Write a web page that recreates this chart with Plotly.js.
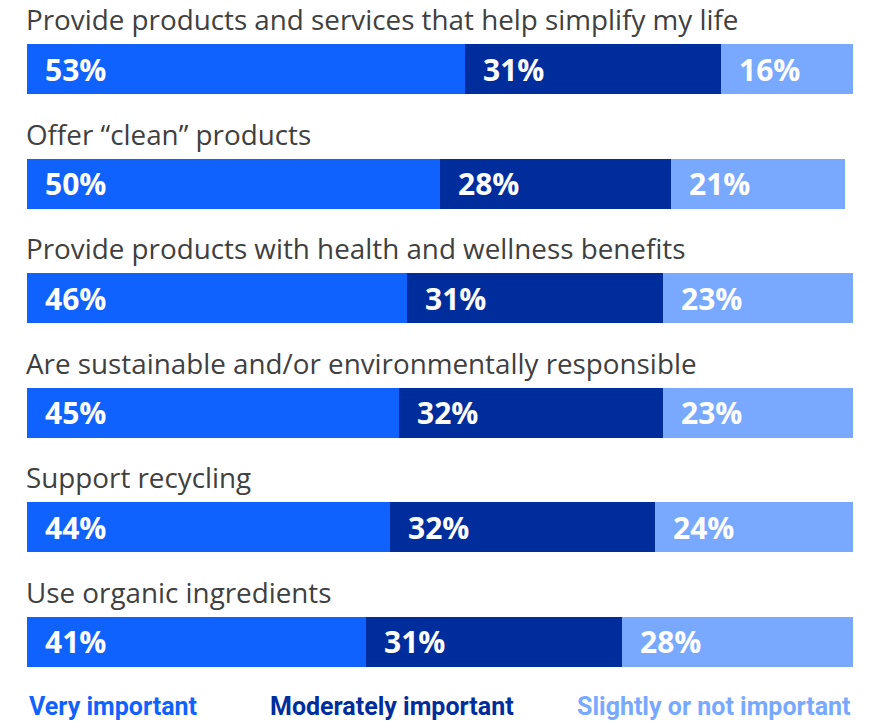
<!DOCTYPE html>
<html>
<head>
<meta charset="utf-8">
<script src="https://cdn.plot.ly/plotly-3.0.1.min.js"></script>
<style>html,body{margin:0;padding:0;background:#fff;}#chart{width:871px;height:721px;}</style>
</head>
<body>
<div id="chart"></div>
<script>
const categories = [
  "Provide products and services that help simplify my life",
  "Offer \u201cclean\u201d products",
  "Provide products with health and wellness benefits",
  "Are sustainable and/or environmentally responsible",
  "Support recycling",
  "Use organic ingredients"
];
const seriesNames = ["Very important", "Moderately important", "Slightly or not important"];
const veryImportant = [53, 50, 46, 45, 44, 41];
const moderatelyImportant = [31, 28, 31, 32, 32, 31];
const slightlyNotImportant = [16, 21, 23, 23, 24, 28];
const seriesValues = [veryImportant, moderatelyImportant, slightlyNotImportant];
const colors = ["#0f62fe", "#002d9c", "#78a9ff"];

const traces = seriesValues.map((vals, i) => ({
  type: "bar",
  orientation: "h",
  name: seriesNames[i],
  y: categories,
  x: vals,
  width: 0.44,
  marker: {color: colors[i], line: {width: 0}},
  hoverinfo: "none"
}));

const annotations = [];
categories.forEach((cat, ci) => {
  let start = 0;
  seriesValues.forEach((vals, si) => {
    annotations.push({
      x: start, y: cat, xref: "x", yref: "y",
      text: "<b>" + vals[ci] + "%</b>",
      showarrow: false, xanchor: "left", yanchor: "middle", xshift: 16,
      font: {family: "Open Sans, sans-serif", size: 30, color: "#ffffff"}
    });
    start += vals[ci];
  });
  annotations.push({
    x: 0, y: cat, xref: "x", yref: "y",
    text: cat, showarrow: false, xanchor: "left", yanchor: "middle",
    yshift: 50, xshift: -3,
    font: {family: "Open Sans, sans-serif", size: 27.8, color: "#404040"}
  });
});
const legendPos = [{x: 0, anchor: "left"}, {x: 29.2, anchor: "left"}, {x: 100, anchor: "right"}];
seriesNames.forEach((n, i) => {
  annotations.push({
    x: legendPos[i].x, y: 0, xref: "x", yref: "paper",
    text: "<b>" + n + "</b>", showarrow: false,
    xanchor: legendPos[i].anchor, yanchor: "middle", yshift: -7,
    font: {family: "Roboto, sans-serif", size: 25, color: colors[i]}
  });
});

const layout = {
  width: 871, height: 721,
  margin: {l: 27, r: 18, t: 12, b: 22, autoexpand: false},
  paper_bgcolor: "#ffffff", plot_bgcolor: "#ffffff",
  barmode: "stack",
  showlegend: false,
  xaxis: {range: [0, 100], visible: false, fixedrange: true},
  yaxis: {range: [5.5, -0.5], visible: false, type: "category", fixedrange: true},
  annotations: annotations
};
Plotly.newPlot("chart", traces, layout, {displayModeBar: false, staticPlot: true});
</script>
</body>
</html>
